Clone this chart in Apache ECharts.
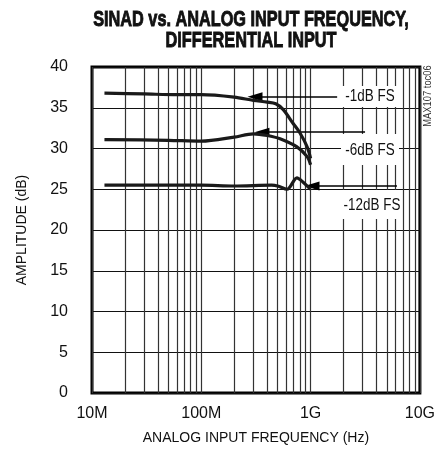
<!DOCTYPE html>
<html>
<head>
<meta charset="utf-8">
<script src="https://cdn.jsdelivr.net/npm/echarts@6/dist/echarts.min.js"></script>
<style>
html, body { margin: 0; padding: 0; background: #fff; }
#chart { width: 438px; height: 455px; }
</style>
</head>
<body>
<div id="chart"></div>
<script>
// frequencies in MHz, amplitude in dB
var freq1 = [13, 30, 60, 100, 200, 300, 400, 480, 560, 690, 800, 930, 1000];
var sinad1 = [36.8, 36.7, 36.6, 36.6, 36.3, 35.9, 35.7, 35.5, 34.8, 33.1, 31.9, 30.2, 28.8];
var freq6 = [13, 50, 100, 200, 300, 400, 525, 750, 930, 1000];
var sinad6 = [31.1, 31.0, 30.9, 31.4, 31.8, 31.6, 31.2, 30.2, 29.0, 28.0];
var freq12 = [13, 50, 100, 200, 440, 500, 610, 750, 850, 1000];
var sinad12 = [25.5, 25.5, 25.5, 25.4, 25.5, 25.4, 25.0, 26.4, 25.9, 25.0];

var seriesNames = ['-1dB FS', '-6dB FS', '-12dB FS'];
// arrow annotations: [from MHz, to MHz, level dB]
var arrows = [[1750, 310, 36.35], [3150, 359, 32.0], [6170, 1030, 25.4]];

var xTickValues = [10, 100, 1000, 10000];
var xTickLabels = ['10M', '100M', '1G', '10G'];
var minorGrid = [20, 30, 40, 50, 60, 70, 80, 90, 200, 300, 400, 500, 600, 700, 800, 900,
                 2000, 3000, 4000, 5000, 6000, 7000, 8000, 9000];

var fontFam = "'Liberation Sans', Arial, sans-serif";

function pairs(xs, ys) {
    return xs.map(function (x, i) { return [x, ys[i]]; });
}

function curve(name, xs, ys, arrow) {
    return {
        name: name,
        type: 'line',
        data: pairs(xs, ys),
        smooth: 0.3,
        showSymbol: false,
        lineStyle: { color: '#1a1a1a', width: 3.2 },
        z: 5,
        markLine: {
            silent: true,
            symbol: ['none', 'triangle'],
            symbolSize: [9, 15],
            label: { show: false },
            lineStyle: { color: '#000', width: 1.5, type: 'solid' },
            data: [[{ coord: [arrow[0], arrow[2]] }, { coord: [arrow[1], arrow[2]] }]]
        }
    };
}

function text(str, x, y, font, sx, extra) {
    var el = {
        type: 'text', x: x, y: y, scaleX: sx, z: 100,
        style: { text: str, align: 'center', verticalAlign: 'middle', font: font, fill: '#111' }
    };
    if (extra) {
        for (var k in extra) el.style[k] = extra[k];
    }
    return el;
}

var titleFont = "bold 22px " + fontFam;
var noteFont = "16px " + fontFam;

var myChart = echarts.init(document.getElementById('chart'));
var option = {
    animation: false,
    backgroundColor: '#fff',
    grid: {
        left: 92, right: 18, top: 67, bottom: 62,
        show: true, borderColor: '#000', borderWidth: 3
    },
    xAxis: {
        type: 'log',
        logBase: 10,
        min: 10,
        max: 10000,
        axisLine: { show: false },
        axisTick: { show: false },
        axisLabel: {
            margin: 13,
            fontSize: 16,
            fontFamily: fontFam,
            color: '#111',
            formatter: function (v) {
                var i = xTickValues.indexOf(Math.round(v));
                return i >= 0 ? xTickLabels[i] : '';
            }
        },
        splitLine: { show: true, lineStyle: { color: '#333', width: 1.2 } },
        name: 'ANALOG INPUT FREQUENCY (Hz)',
        nameLocation: 'middle',
        nameGap: 38,
        nameTextStyle: { fontSize: 14, fontFamily: fontFam, color: '#111' }
    },
    yAxis: {
        type: 'value',
        min: 0,
        max: 40,
        interval: 5,
        axisLine: { show: false },
        axisTick: { show: false },
        axisLabel: { margin: 24, fontSize: 16, fontFamily: fontFam, color: '#111' },
        splitLine: { show: true, lineStyle: { color: '#111', width: 1.2 } },
        name: 'AMPLITUDE (dB)',
        nameLocation: 'middle',
        nameGap: 63,
        nameTextStyle: { fontSize: 14, fontFamily: fontFam, color: '#111' }
    },
    series: [
        {
            name: 'grid',
            type: 'line',
            data: [],
            silent: true,
            z: 1,
            markLine: {
                silent: true,
                symbol: ['none', 'none'],
                label: { show: false },
                lineStyle: { color: '#333', width: 1.2, type: 'solid' },
                data: minorGrid.map(function (f) { return { xAxis: f }; })
            }
        },
        curve(seriesNames[0], freq1, sinad1, arrows[0]),
        curve(seriesNames[1], freq6, sinad6, arrows[1]),
        curve(seriesNames[2], freq12, sinad12, arrows[2])
    ],
    graphic: [
        text('SINAD vs. ANALOG INPUT FREQUENCY,', 251, 20, titleFont, 0.74, { stroke: '#111', lineWidth: 0.9 }),
        text('DIFFERENTIAL INPUT', 251, 41, titleFont, 0.74, { stroke: '#111', lineWidth: 0.9 }),
        { type: 'rect', z: 50, shape: { x: 341, y: 86, width: 58, height: 21 }, style: { fill: '#fff' } },
        { type: 'rect', z: 50, shape: { x: 341, y: 134, width: 58, height: 31 }, style: { fill: '#fff' } },
        { type: 'rect', z: 50, shape: { x: 341, y: 190, width: 58, height: 29 }, style: { fill: '#fff' } },
        text(seriesNames[0], 370, 97, noteFont, 0.84),
        text(seriesNames[1], 370, 151, noteFont, 0.84),
        text(seriesNames[2], 372, 206, noteFont, 0.84),
        (function () {
            var t = text('MAX107 toc06', 428, 96, "11px " + fontFam, 0.85, { fill: '#333' });
            t.rotation = Math.PI / 2;
            return t;
        })()
    ]
};
myChart.setOption(option);
</script>
</body>
</html>
